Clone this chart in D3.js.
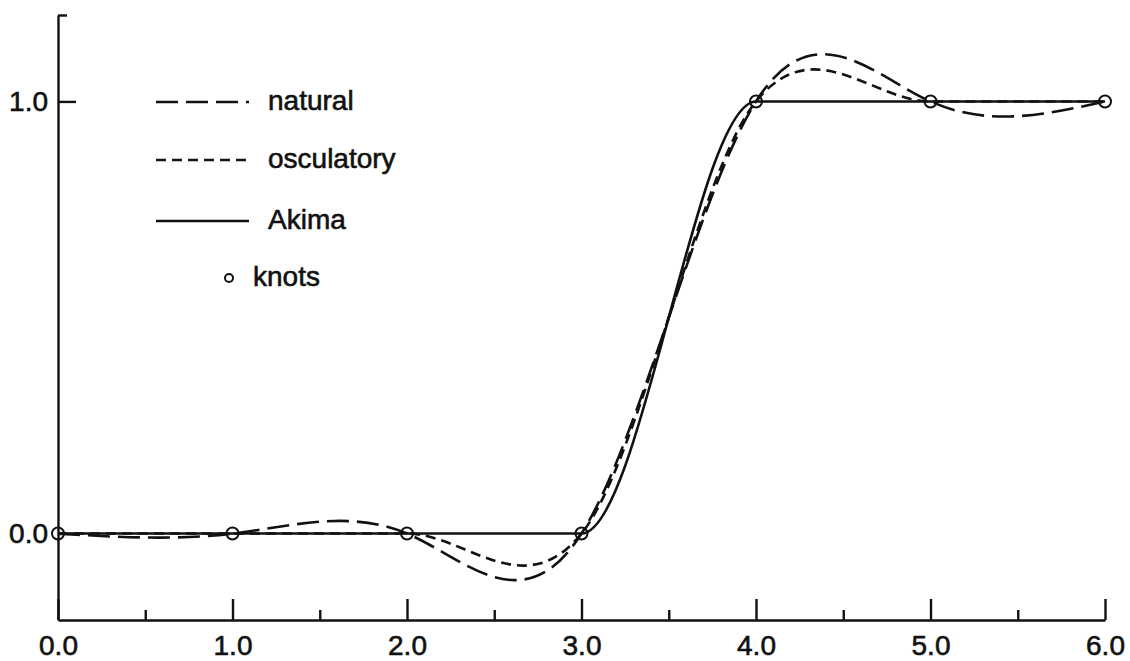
<!DOCTYPE html>
<html>
  <head>
    <title>natural, osculatory and Akima interpolation</title>
    <style>
      body { margin: 0; background: #fff; }
      text { font-family: "Liberation Sans", Arial, sans-serif; fill: #111; stroke: #111; stroke-width: 0.6px; }
    </style>
  </head>
  <body>
    <script src="https://d3js.org/d3.v7.min.js"></script>
    <script>

var width = 1130,
    height = 661;

// knots of the interpolation problem
var knotX = [0, 1, 2, 3, 4, 5, 6],
    knotY = [0, 0, 0, 0, 1, 1, 1];

var xTicks = [0, 1, 2, 3, 4, 5, 6],
    xMinor = [0.5, 1.5, 2.5, 3.5, 4.5, 5.5],
    yTicks = [0, 1],
    yMinor = [1.2];

var seriesNames = ['natural', 'osculatory', 'Akima'],
    seriesDash = ['22,8', '10,6', null];

var knots = knotX.map(function (x, i) { return {x: x, y: knotY[i]}; });

// each method is one of d3's own curve interpolators through the knots
var curves = {
  natural: d3.curveNatural,
  osculatory: d3.curveCatmullRom.alpha(0),
  Akima: d3.curveMonotoneX
};

var x = d3.scaleLinear().domain([0, 6]).range([58, 1105]);
var y = d3.scaleLinear().domain([-0.2, 1.2]).range([620, 15]);

var svg = d3.select('body').append('svg')
    .attr('width', width)
    .attr('height', height);

svg.append('rect').attr('width', width).attr('height', height).attr('fill', '#fff');

// axes, ticks pointing inward
svg.append('g')
    .attr('transform', 'translate(0,' + y(-0.2) + ')')
    .call(d3.axisBottom(x).tickValues(xTicks).tickSize(-21).tickSizeOuter(0)
      .tickPadding(15).tickFormat(d3.format('.1f')));

svg.append('g')
    .attr('transform', 'translate(0,' + y(-0.2) + ')')
    .call(d3.axisBottom(x).tickValues(xMinor).tickSize(-10).tickSizeOuter(0).tickFormat(''))
    .select('.domain').remove();

svg.append('g')
    .attr('transform', 'translate(' + x(0) + ',0)')
    .call(d3.axisLeft(y).tickValues(yTicks).tickSize(-18).tickSizeOuter(0)
      .tickPadding(10).tickFormat(d3.format('.1f')));

svg.append('g')
    .attr('transform', 'translate(' + x(0) + ',0)')
    .call(d3.axisLeft(y).tickValues(yMinor).tickSize(-9).tickSizeOuter(0).tickFormat(''))
    .select('.domain').remove();

svg.selectAll('.domain, .tick line')
    .attr('stroke', '#111')
    .attr('stroke-width', 2.4);

svg.selectAll('.tick text')
    .attr('font-family', '"Liberation Sans", Arial, sans-serif')
    .attr('font-size', 28)
    .attr('fill', '#111');

// the three interpolants
seriesNames.forEach(function (name, i) {
  var line = d3.line()
      .x(function (d) { return x(d.x); })
      .y(function (d) { return y(d.y); })
      .curve(curves[name]);
  svg.append('path')
      .datum(knots)
      .attr('d', line)
      .attr('fill', 'none')
      .attr('stroke', '#111')
      .attr('stroke-width', 2.6)
      .attr('stroke-dasharray', seriesDash[i]);
});

svg.selectAll('circle.knot')
  .data(knots)
  .enter().append('circle')
    .attr('class', 'knot')
    .attr('cx', function (d) { return x(d.x); })
    .attr('cy', function (d) { return y(d.y); })
    .attr('r', 6)
    .attr('fill', 'none')
    .attr('stroke', '#111')
    .attr('stroke-width', 2);

// legend
var legend = svg.append('g');
var rowY = [102, 160, 221];

seriesNames.forEach(function (name, i) {
  legend.append('line')
      .attr('x1', 156).attr('x2', 249)
      .attr('y1', rowY[i]).attr('y2', rowY[i])
      .attr('stroke', '#111')
      .attr('stroke-width', 2.6)
      .attr('stroke-dasharray', seriesDash[i]);
  legend.append('text')
      .attr('x', 268).attr('y', rowY[i])
      .attr('dy', '0.3em')
      .attr('font-size', 28)
      .text(name);
});

legend.append('circle')
    .attr('cx', 229).attr('cy', 278)
    .attr('r', 4)
    .attr('fill', 'none')
    .attr('stroke', '#111')
    .attr('stroke-width', 2);

legend.append('text')
    .attr('x', 253).attr('y', 278)
    .attr('dy', '0.3em')
    .attr('font-size', 28)
    .text('knots');

    </script>
  </body>
</html>
